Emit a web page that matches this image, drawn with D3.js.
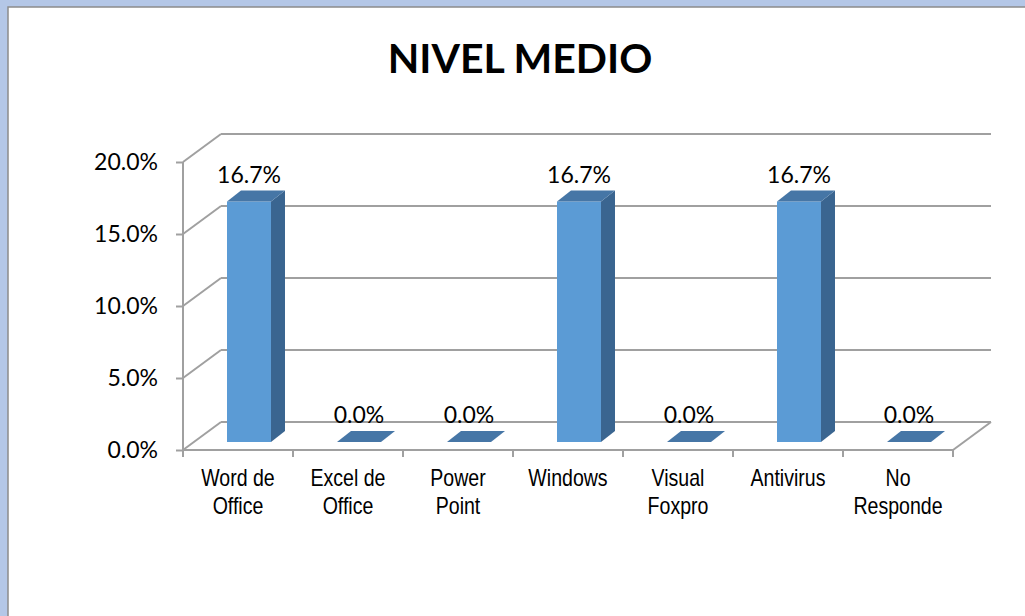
<!DOCTYPE html>
<html>
<head>
<meta charset="utf-8">
<script src="https://cdn.jsdelivr.net/npm/d3@7"></script>
<style>
  body { margin:0; background:#b4c7e7; }
  svg { display:block; }
</style>
</head>
<body>
<div id="chart"></div>
<script>
// values of the chart
const categories = ["Word de Office","Excel de Office","Power Point","Windows","Visual Foxpro","Antivirus","No Responde"];
const catLines = [["Word de","Office"],["Excel de","Office"],["Power","Point"],["Windows"],["Visual","Foxpro"],["Antivirus"],["No","Responde"]];
const values = [0.167,0,0,0.167,0,0.167,0];
const yTicks = [0,0.05,0.10,0.15,0.20];
const title = "NIVEL MEDIO";

const width = 1025, height = 616;
const depth = {dx:38, dy:-28};       // wall depth
const barFront = {dx:11, dy:-8};     // where bars start in depth
const barDepth = {dx:14, dy:-11};    // bar thickness in depth

const svg = d3.select("#chart").append("svg")
    .attr("width",width)
    .attr("height",height);

svg.append("rect").attr("x",0).attr("y",0).attr("width",width).attr("height",height).attr("fill","#b4c7e7");
svg.append("rect").attr("x",8).attr("y",7).attr("width",width+10).attr("height",height)
    .attr("fill","#fff").attr("stroke","#8c8c8c").attr("stroke-width",1.5);

svg.append("text")
    .attr("x",520).attr("y",73)
    .attr("text-anchor","middle")
    .attr("font-family","Lato, 'Open Sans', sans-serif")
    .attr("font-weight","bold")
    .attr("font-size",41)
    .text(title);

let xScale = d3.scaleBand().domain(categories).range([183,953]);
let yScale = d3.scaleLinear().domain([0,0.2]).range([450,162]);

const grid = "#a0a0a0";
const xEnd = 953;

// back wall gridlines + side wall diagonals
yTicks.forEach(t => {
    let y = yScale(t);
    svg.append("line")
        .attr("x1",183).attr("y1",y)
        .attr("x2",183+depth.dx).attr("y2",y+depth.dy)
        .attr("stroke",grid).attr("stroke-width",2);
    svg.append("line")
        .attr("x1",183+depth.dx).attr("y1",y+depth.dy)
        .attr("x2",xEnd+depth.dx).attr("y2",y+depth.dy)
        .attr("stroke",grid).attr("stroke-width",2);
});

// floor front edge and right edge
svg.append("line").attr("x1",183).attr("y1",yScale(0)).attr("x2",xEnd).attr("y2",yScale(0))
    .attr("stroke",grid).attr("stroke-width",2);
svg.append("line").attr("x1",xEnd).attr("y1",yScale(0)).attr("x2",xEnd+depth.dx).attr("y2",yScale(0)+depth.dy)
    .attr("stroke",grid).attr("stroke-width",2);

// y axis
let yAxis = svg.append("g")
    .attr("transform","translate(183,0)")
    .call(d3.axisLeft(yScale).tickValues(yTicks).tickFormat(d3.format(".1%")).tickSize(7).tickPadding(18));
yAxis.select(".domain").attr("stroke",grid).attr("stroke-width",2).attr("d","M0,162V457");
yAxis.selectAll(".tick line").attr("stroke",grid).attr("stroke-width",2);
yAxis.selectAll(".tick text")
    .attr("font-family","Lato, 'Open Sans', sans-serif")
    .attr("font-size",23).attr("fill","#000");

// category ticks
let bounds = categories.map(c => xScale(c)).concat([xEnd]);
bounds.forEach(x => {
    svg.append("line").attr("x1",x).attr("y1",450).attr("x2",x).attr("y2",457)
        .attr("stroke",grid).attr("stroke-width",2);
});

// category labels (narrow look)
categories.forEach((c,i) => {
    let cx = xScale(c)+xScale.bandwidth()/2;
    let t = svg.append("text")
        .attr("transform",`translate(${cx},486) scale(0.85,1)`)
        .attr("text-anchor","middle")
        .attr("font-family","'Liberation Sans Narrow','Arial Narrow','Liberation Sans',sans-serif")
        .attr("font-size",23)
        .attr("fill","#000");
    catLines[i].forEach((l,j) => {
        t.append("tspan").attr("x",0).attr("dy",j==0?0:28).text(l);
    });
});

// bars
const bw = xScale.bandwidth()*0.4;
categories.forEach((c,i) => {
    let v = values[i];
    let xl = xScale(c) + (xScale.bandwidth()-bw)/2 + barFront.dx;
    let xr = xl + bw;
    let yb = yScale(0) + barFront.dy;
    let yt = yScale(v) + barFront.dy;
    let g = svg.append("g");
    if (v > 0) {
        g.append("polygon")
            .attr("points",[[xl,yt],[xr,yt],[xr,yb],[xl,yb]].join(" "))
            .attr("fill","#5b9bd5");
        g.append("polygon")
            .attr("points",[[xr,yt],[xr+barDepth.dx,yt+barDepth.dy],[xr+barDepth.dx,yb+barDepth.dy],[xr,yb]].join(" "))
            .attr("fill","#3a6590");
    }
    g.append("polygon")
        .attr("points",[[xl,yt],[xr,yt],[xr+barDepth.dx,yt+barDepth.dy],[xl+barDepth.dx,yt+barDepth.dy]].join(" "))
        .attr("fill","#4676a6");

    svg.append("text")
        .attr("x",xl+bw/2)
        .attr("y",yt+barDepth.dy-8)
        .attr("text-anchor","middle")
        .attr("font-family","Lato, 'Open Sans', sans-serif")
        .attr("font-size",23)
        .attr("fill","#000")
        .text(d3.format(".1%")(v));
});
</script>
</body>
</html>
